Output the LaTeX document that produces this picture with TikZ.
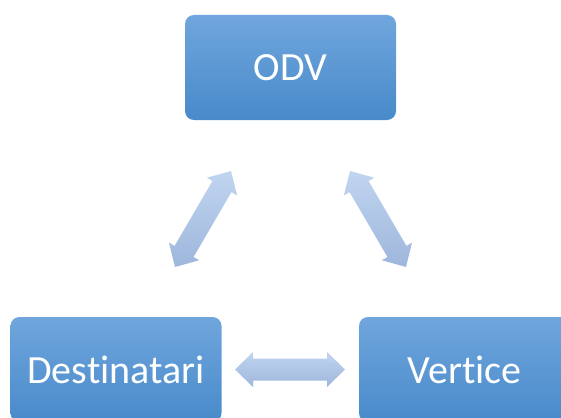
\documentclass[tikz,border=0pt]{standalone}
\usepackage{fontspec}
\setmainfont{Carlito}[Ligatures={NoCommon}]
\usetikzlibrary{calc}
\definecolor{boxtop}{RGB}{112,166,221}
\definecolor{boxmid}{RGB}{86,155,220}
\definecolor{boxbot}{RGB}{72,138,202}
\definecolor{arrtop}{RGB}{192,213,240}
\definecolor{arrbot}{RGB}{158,182,220}
\tikzset{
  box/.style={rectangle, rounded corners=9pt, minimum width=211pt, minimum height=105pt,
    inner sep=0pt, top color=boxtop, middle color=boxmid, bottom color=boxbot,
    text=white, font=\fontsize{40}{42}\selectfont},
  arrowshade/.style={top color=arrtop, bottom color=arrbot}
}
\newcommand{\blockarrow}[2]{%
  \path ($(#1)!18pt!(#2)$) coordinate (h1) ($(#2)!18pt!(#1)$) coordinate (h2);
  \shade[arrowshade] (#1) -- ($(h1)!17.5pt!90:(#2)$) -- ($(h1)!11pt!90:(#2)$)
    -- ($(h2)!11pt!-90:(#1)$) -- ($(h2)!17.5pt!-90:(#1)$) -- (#2)
    -- ($(h2)!17.5pt!90:(#1)$) -- ($(h2)!11pt!90:(#1)$)
    -- ($(h1)!11pt!-90:(#2)$) -- ($(h1)!17.5pt!-90:(#2)$) -- cycle;}
\begin{document}
\begin{tikzpicture}[x=1pt,y=1pt]
\useasboundingbox (0,0) rectangle (561,-417);
\clip (0,0) rectangle (561,-417);
\node[box] (odv) at (290.5,-67.5) {ODV};
\node[box] (dest) at (116,-369.5) {Destinatari};
\node[box] (vert) at (464.5,-369.5) {Vertice};
\coordinate (la) at (175,-267);
\coordinate (lb) at (231,-171);
\coordinate (ra) at (350,-171);
\coordinate (rb) at (406,-267);
\coordinate (ha) at (235,-369.5);
\coordinate (hb) at (345,-369.5);
\blockarrow{la}{lb}
\blockarrow{ra}{rb}
\blockarrow{ha}{hb}
\end{tikzpicture}
\end{document}
